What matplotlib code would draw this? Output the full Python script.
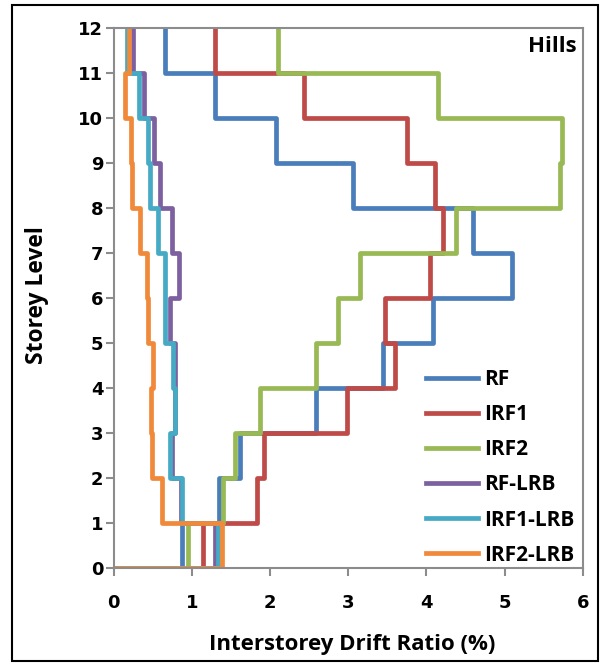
import matplotlib.pyplot as plt
import numpy as np
from matplotlib.patches import Rectangle

# storey drift ratios (%), storey 1 at index 0 up to storey 12
storeys = np.arange(0, 13)
rf = [0.88, 1.35, 1.61, 2.59, 3.44, 4.09, 5.10, 4.59, 3.06, 2.07, 1.30, 0.66]
irf1 = [1.14, 1.83, 1.92, 2.98, 3.60, 3.47, 4.05, 4.21, 4.11, 3.75, 2.43, 1.30]
irf2 = [0.95, 1.40, 1.55, 1.87, 2.59, 2.87, 3.15, 4.38, 5.71, 5.73, 4.15, 2.10]
rf_lrb = [1.30, 0.86, 0.74, 0.79, 0.79, 0.72, 0.84, 0.74, 0.59, 0.52, 0.39, 0.25]
irf1_lrb = [1.33, 0.87, 0.72, 0.78, 0.76, 0.66, 0.66, 0.57, 0.46, 0.44, 0.33, 0.17]
irf2_lrb = [1.39, 0.62, 0.49, 0.48, 0.50, 0.44, 0.43, 0.34, 0.24, 0.22, 0.145, 0.20]

series = [('RF', rf, '#4A7EBB'),
          ('IRF1', irf1, '#BE4B48'),
          ('IRF2', irf2, '#98B954'),
          ('RF-LRB', rf_lrb, '#7D60A0'),
          ('IRF1-LRB', irf1_lrb, '#46AAC5'),
          ('IRF2-LRB', irf2_lrb, '#F08A3A')]


def step_profile(drift):
    # constant drift over each storey -> vertical runs joined at floor levels
    d = np.asarray(drift)
    x = np.concatenate([[0], np.repeat(d, 2)])
    y = np.concatenate([[0], np.ravel(np.column_stack([storeys[:-1], storeys[1:]]))])
    return x, y


fig = plt.figure(figsize=(6.06, 6.66), dpi=100)
ax = fig.add_axes([0.1876, 0.1467, 0.774, 0.812])

for name, vals, col in series:
    x, y = step_profile(vals)
    ax.plot(x, y, color=col, lw=3.4, label=name, solid_joinstyle='round')

ax.set_xlim(0, 6)
ax.set_ylim(0, 12)
ax.set_xticks(range(0, 7))
ax.set_yticks(range(0, 13))
for s in ax.spines.values():
    s.set_color('#8C8C8C')
    s.set_linewidth(1.5)
ax.tick_params(direction='out', length=5.5, width=1.5, color='#8C8C8C', labelsize=13)
ax.tick_params(axis='x', pad=13)
ax.tick_params(axis='y', pad=2)
for lab in ax.get_xticklabels() + ax.get_yticklabels():
    lab.set_fontweight('bold')

ax.set_xlabel('Interstorey Drift Ratio (%)', fontsize=16, fontweight='bold', family='Open Sans')
ax.set_ylabel('Storey Level', fontsize=16.5, fontweight='bold', family='Open Sans')
ax.xaxis.label.set_va('center')
ax.yaxis.label.set_va('center')
ax.xaxis.set_label_coords(0.508, -0.141)
ax.yaxis.set_label_coords(-0.163, 0.505)
ax.text(0.988, 0.985, 'Hills', transform=ax.transAxes, ha='right', va='top',
        fontsize=16, fontweight='bold', family='Open Sans')

ax.legend(loc='lower right', bbox_to_anchor=(1.023, -0.03), frameon=False,
          prop={'family': 'Open Sans', 'weight': 'bold', 'size': 15},
          handlelength=2.5, handletextpad=0.3, labelspacing=0.68)

fig.patches.append(Rectangle((12 / 606, 1 - 661 / 666), 586 / 606, 656 / 666,
                             transform=fig.transFigure, fill=False, ec='black', lw=1.5))

plt.savefig('out.png', dpi=100)
